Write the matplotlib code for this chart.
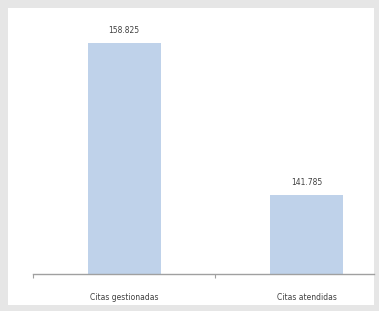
import matplotlib
matplotlib.use("Agg")
import matplotlib.pyplot as plt
from matplotlib.patches import Rectangle

categories = ["Citas gestionadas", "Citas atendidas"]
values = [158825, 141785]
value_labels = ["158.825", "141.785"]

fig = plt.figure(figsize=(3.79, 3.11), dpi=100)
fig.patch.set_facecolor("#e6e6e6")
fig.add_artist(Rectangle((8/379, 6/311), 366/379, 297/311, transform=fig.transFigure,
                         facecolor="white", edgecolor="none", zorder=0))

ax = fig.add_axes([33/379, 37/311, 341/379, 254/311])
ax.set_facecolor("none")
x = list(range(len(categories)))
ax.bar(x, values, width=0.4, color="#bfd2ea", zorder=2)
ax.set_ylim(132930, 161400)
ax.set_xlim(-0.5, 1.37)
for xi, v, lab in zip(x, values, value_labels):
    ax.text(xi, v + 900, lab, ha="center", va="bottom", fontsize=5.5, color="#404040")

for s in ["top", "right", "left"]:
    ax.spines[s].set_visible(False)
ax.spines["bottom"].set_color("#a0a0a0")
ax.spines["bottom"].set_linewidth(1.0)
ax.set_yticks([])
ax.set_xticks([-0.5, 0.5])
ax.set_xticklabels(["", ""])
ax.tick_params(axis="x", length=3, color="#a0a0a0")
for xi, c in zip(x, categories):
    ax.text(xi, -0.075, c, transform=ax.get_xaxis_transform(), ha="center", va="top",
            fontsize=5.5, color="#404040")

fig.savefig("out.png", dpi=100)
